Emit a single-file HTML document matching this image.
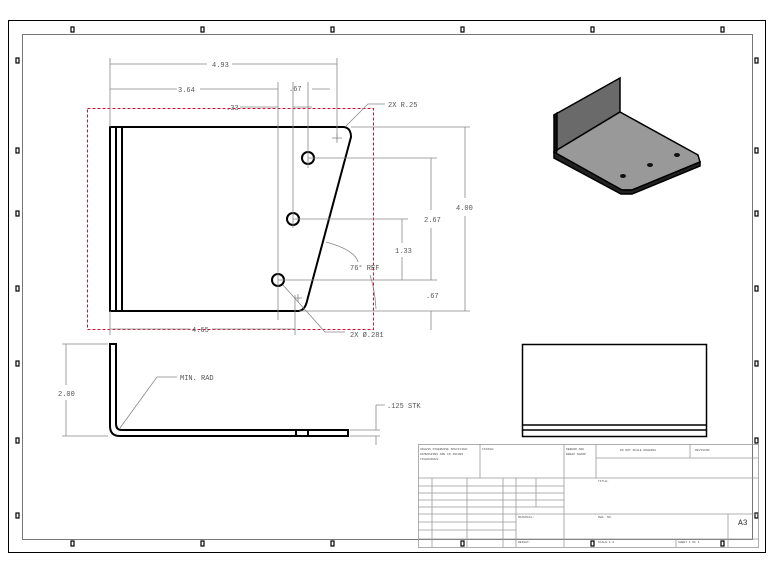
<!DOCTYPE html>
<html><head><style>
body{margin:0;background:#fff}
svg{display:block}
text{font-family:"Liberation Mono",monospace;font-size:7px;fill:#555}
</style></head><body>
<svg width="774" height="573" viewBox="0 0 774 573" xmlns="http://www.w3.org/2000/svg">
<rect width="774" height="573" fill="#fff"/>
<rect x="8.5" y="20.5" width="757" height="532" fill="none" stroke="#000" stroke-width="1"/>
<rect x="22.5" y="34.5" width="730" height="505" fill="none" stroke="#777" stroke-width="1"/>
<g fill="none" stroke="#000" stroke-width="1.2">
<rect x="71" y="27" width="3" height="5"/><rect x="201" y="27" width="3" height="5"/><rect x="331" y="27" width="3" height="5"/><rect x="461" y="27" width="3" height="5"/><rect x="591" y="27" width="3" height="5"/><rect x="721" y="27" width="3" height="5"/>
<rect x="71" y="541" width="3" height="5"/><rect x="201" y="541" width="3" height="5"/><rect x="331" y="541" width="3" height="5"/><rect x="461" y="541" width="3" height="5"/><rect x="591" y="541" width="3" height="5"/><rect x="721" y="541" width="3" height="5"/>
<rect x="16" y="58" width="3" height="5"/><rect x="16" y="148" width="3" height="5"/><rect x="16" y="211" width="3" height="5"/><rect x="16" y="286" width="3" height="5"/><rect x="16" y="361" width="3" height="5"/><rect x="16" y="438" width="3" height="5"/><rect x="16" y="513" width="3" height="5"/>
<rect x="755" y="58" width="3" height="5"/><rect x="755" y="148" width="3" height="5"/><rect x="755" y="211" width="3" height="5"/><rect x="755" y="286" width="3" height="5"/><rect x="755" y="361" width="3" height="5"/><rect x="755" y="438" width="3" height="5"/><rect x="755" y="513" width="3" height="5"/>
</g>
<rect x="87.5" y="108.5" width="286" height="221" fill="none" stroke="#d01030" stroke-width="1" stroke-dasharray="3,2"/>
<g fill="none" stroke="#000" stroke-width="2">
<path d="M110 127 H344 Q351 128 351 137 L307 301 Q305 310 299 311 H110 Z"/>
<line x1="116" y1="127" x2="116" y2="311"/><line x1="122" y1="127" x2="122" y2="311"/>
<circle cx="308" cy="158" r="6"/><circle cx="293" cy="219" r="6"/><circle cx="278" cy="280" r="6"/>
</g>
<g stroke="#888" stroke-width="0.8" fill="none">
<line x1="110" y1="58" x2="110" y2="127"/><line x1="337" y1="58" x2="337" y2="140"/>
<line x1="110" y1="64" x2="207" y2="64"/><line x1="232" y1="64" x2="337" y2="64"/>
<line x1="110" y1="89" x2="177" y2="89"/><line x1="200" y1="89" x2="278" y2="89"/>
<line x1="278" y1="82" x2="278" y2="320"/><line x1="293" y1="82" x2="293" y2="228"/><line x1="308" y1="82" x2="308" y2="168"/>
<line x1="312" y1="89" x2="330" y2="89"/>
<line x1="240" y1="107" x2="278" y2="107"/><line x1="293" y1="107" x2="312" y2="107"/>
<line x1="351" y1="127" x2="470" y2="127"/><line x1="308" y1="158" x2="437" y2="158"/>
<line x1="293" y1="219" x2="408" y2="219"/><line x1="278" y1="280" x2="437" y2="280"/>
<line x1="299" y1="311" x2="470" y2="311"/>
<line x1="465" y1="127" x2="465" y2="198"/><line x1="465" y1="216" x2="465" y2="311"/>
<line x1="431" y1="158" x2="431" y2="210"/><line x1="431" y1="228" x2="431" y2="280"/>
<line x1="402" y1="219" x2="402" y2="243"/><line x1="402" y1="257" x2="402" y2="280"/>
<line x1="431" y1="311" x2="431" y2="330"/>
<line x1="110" y1="311" x2="110" y2="335"/><line x1="295" y1="295" x2="295" y2="335"/>
<line x1="110" y1="329" x2="190" y2="329"/><line x1="212" y1="329" x2="295" y2="329"/>
<path d="M385 104 H368 L346 126"/>
<path d="M326 242 Q355 250 358 262"/><path d="M370 275 Q375 290 376 309"/>
<path d="M283 285 L325 332 H345"/>
<line x1="332" y1="138" x2="342" y2="138"/><line x1="337" y1="133" x2="337" y2="143"/>
<line x1="294" y1="298" x2="302" y2="298"/><line x1="298" y1="294" x2="298" y2="302"/>
</g>
<g fill="#555">
<text x="212" y="67">4.93</text><text x="178" y="92">3.64</text><text x="289" y="91">.67</text><text x="226" y="110">.33</text>
<text x="388" y="107">2X R.25</text><text x="456" y="210">4.00</text><text x="424" y="222">2.67</text>
<text x="395" y="253">1.33</text><text x="426" y="298">.67</text><text x="350" y="270">76° REF</text>
<text x="192" y="332">4.65</text><text x="350" y="337">2X Ø.281</text>
</g>
<g fill="none" stroke="#000" stroke-width="2">
<path d="M110 344 H116 V424 Q116 430 122 430 H348 V436 H120 Q110 436 110 426 Z"/>
<line x1="296" y1="430" x2="296" y2="436"/><line x1="308" y1="430" x2="308" y2="436"/>
</g>
<g stroke="#888" stroke-width="0.8" fill="none">
<line x1="62" y1="344" x2="108" y2="344"/><line x1="62" y1="436" x2="108" y2="436"/>
<line x1="66" y1="344" x2="66" y2="385"/><line x1="66" y1="400" x2="66" y2="436"/>
<path d="M177 377 H157 L120 428"/>
<line x1="350" y1="430" x2="380" y2="430"/><line x1="350" y1="436" x2="380" y2="436"/>
<path d="M376 405 V430 M376 436 V445 M376 405 H385"/>
</g>
<text x="58" y="396">2.00</text><text x="180" y="380">MIN. RAD</text><text x="387" y="408">.125 STK</text>
<g fill="none" stroke="#000" stroke-width="1.5">
<rect x="522.5" y="344.5" width="184" height="92"/>
<line x1="522" y1="425" x2="707" y2="425"/><line x1="522" y1="430" x2="707" y2="430"/>
</g>
<g stroke="#000" stroke-width="1.5">
<polygon points="554,115 620,78 620,112 557,150" fill="#6a6a6a"/>
<polygon points="554,115 557,113 557,150 554,152" fill="#111"/>
<polygon points="557,150 620,112 698,155 700,162 632,190 622,190 556,155" fill="#999"/>
<polygon points="554,152 622,190 632,190 700,162 700,166 632,194 621,194 554,158" fill="#222"/>
</g>
<g fill="#111"><ellipse cx="623" cy="176" rx="3" ry="2"/><ellipse cx="650" cy="165" rx="3" ry="2"/><ellipse cx="677" cy="155" rx="3" ry="2"/></g>
<g stroke="#999" stroke-width="0.8" fill="none">
<rect x="418.5" y="444.5" width="340" height="103"/>
<line x1="480" y1="444" x2="480" y2="478"/><line x1="564" y1="444" x2="564" y2="547"/>
<line x1="596" y1="444" x2="596" y2="478"/><line x1="690" y1="444" x2="690" y2="458"/>
<line x1="596" y1="458" x2="758" y2="458"/>
<line x1="418" y1="478" x2="758" y2="478"/>
<line x1="418" y1="486" x2="564" y2="486"/><line x1="418" y1="493" x2="564" y2="493"/><line x1="418" y1="500" x2="564" y2="500"/><line x1="418" y1="507" x2="564" y2="507"/>
<line x1="418" y1="514" x2="758" y2="514"/><line x1="418" y1="522" x2="516" y2="522"/><line x1="418" y1="530" x2="516" y2="530"/><line x1="418" y1="539" x2="758" y2="539"/>
<line x1="432" y1="478" x2="432" y2="547"/><line x1="467" y1="478" x2="467" y2="547"/><line x1="503" y1="478" x2="503" y2="547"/>
<line x1="516" y1="478" x2="516" y2="547"/><line x1="536" y1="478" x2="536" y2="507"/>
<line x1="728" y1="514" x2="728" y2="547"/><line x1="676" y1="539" x2="676" y2="547"/>
</g>
<text x="738" y="525" style="font-size:8px;fill:#333">A3</text>
<g fill="#888">
<text x="420" y="450" style="font-size:3px">UNLESS OTHERWISE SPECIFIED:</text><text x="420" y="455" style="font-size:3px">DIMENSIONS ARE IN INCHES</text><text x="420" y="460" style="font-size:3px">TOLERANCES:</text>
<text x="482" y="450" style="font-size:3px">FINISH:</text><text x="566" y="450" style="font-size:3px">DEBURR AND</text><text x="566" y="455" style="font-size:3px">BREAK SHARP</text>
<text x="620" y="451" style="font-size:3px">DO NOT SCALE DRAWING</text><text x="695" y="451" style="font-size:3px">REVISION</text>
<text x="598" y="482" style="font-size:3px">TITLE:</text><text x="598" y="518" style="font-size:3px">DWG. NO.</text><text x="518" y="518" style="font-size:3px">MATERIAL:</text>
<text x="518" y="543" style="font-size:3px">WEIGHT:</text><text x="598" y="543" style="font-size:3px">SCALE:1:2</text><text x="678" y="543" style="font-size:3px">SHEET 1 OF 1</text>
</g>
</svg>
</body></html>
